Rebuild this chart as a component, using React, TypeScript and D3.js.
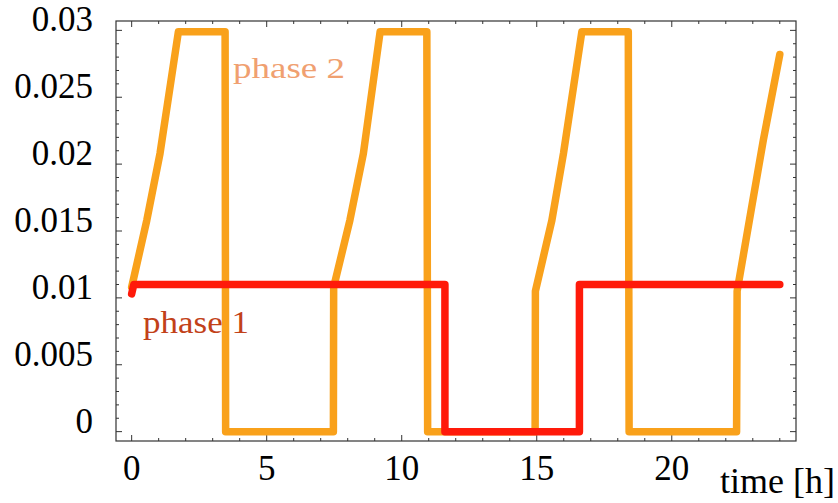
import React, { useEffect, useRef } from 'react';
import * as d3 from 'd3';

// phase 2 (orange) – time [h] and value
const phase2Time = [0, 0.56, 1.05, 1.73, 3.46, 3.48, 7.47, 7.48, 8.08, 8.58, 9.2, 10.93, 10.96, 14.94, 14.95, 15.56, 15.99, 16.67, 18.39, 18.42, 22.4, 22.42, 22.96, 23.39, 24.0];
const phase2Value = [0.0108, 0.0158, 0.0208, 0.0299, 0.0299, 0, 0, 0.0108, 0.0158, 0.0208, 0.0299, 0.0299, 0, 0, 0.0105, 0.0158, 0.0208, 0.0299, 0.0299, 0, 0, 0.0105, 0.0168, 0.0218, 0.0282];

// phase 1 (red)
const phase1Time = [0, 0.08, 11.6, 11.6, 16.58, 16.58, 24.0];
const phase1Value = [0.0103, 0.011, 0.011, 0, 0, 0.011, 0.011];

const xTickLabels = [0, 5, 10, 15, 20];
const yTickLabels = ['0', '0.005', '0.01', '0.015', '0.02', '0.025', '0.03'];

const App = () => {
  const ref = useRef<SVGSVGElement>(null);

  useEffect(() => {
    const width = 838;
    const height = 503;
    const left = 116, right = 796, top = 21, bottom = 441;

    const svg = d3.select(ref.current);
    svg.selectAll('*').remove();

    const x = d3.scaleLinear().domain([-0.58, 24.6]).range([left, right]);
    const y = d3.scaleLinear().domain([-0.0007, 0.0307]).range([bottom, top]);

    const font = '"Liberation Serif", "Times New Roman", serif';

    // frame
    svg.append('rect')
      .attr('x', left)
      .attr('y', top)
      .attr('width', right - left)
      .attr('height', bottom - top)
      .style('fill', 'none')
      .style('stroke', '#333')
      .style('stroke-width', 1.2);

    // ticks on all four sides, pointing inward
    const xt = d3.range(0, 25);
    xt.forEach(t => {
      const len = t % 5 === 0 ? 6 : 3;
      svg.append('line').attr('x1', x(t)).attr('x2', x(t)).attr('y1', bottom).attr('y2', bottom - len)
        .style('stroke', '#333').style('stroke-width', 1);
      svg.append('line').attr('x1', x(t)).attr('x2', x(t)).attr('y1', top).attr('y2', top + len)
        .style('stroke', '#333').style('stroke-width', 1);
    });
    const yt = d3.range(0, 31).map(i => i * 0.001);
    yt.forEach((v, i) => {
      const len = i % 5 === 0 ? 6 : 3;
      svg.append('line').attr('x1', left).attr('x2', left + len).attr('y1', y(v)).attr('y2', y(v))
        .style('stroke', '#333').style('stroke-width', 1);
      svg.append('line').attr('x1', right).attr('x2', right - len).attr('y1', y(v)).attr('y2', y(v))
        .style('stroke', '#333').style('stroke-width', 1);
    });

    // tick labels
    svg.selectAll('.xlab')
      .data(xTickLabels)
      .enter()
      .append('text')
      .attr('x', d => x(d))
      .attr('y', 480)
      .attr('text-anchor', 'middle')
      .style('font-family', font)
      .style('font-size', '35px')
      .style('fill', '#000')
      .text(d => String(d));

    svg.selectAll('.ylab')
      .data(yTickLabels)
      .enter()
      .append('text')
      .attr('x', 93)
      .attr('y', d => y(+d) + 1)
      .attr('text-anchor', 'end')
      .style('font-family', font)
      .style('font-size', '35px')
      .style('fill', '#000')
      .text(d => d);

    svg.append('text')
      .attr('x', 835)
      .attr('y', 493)
      .attr('text-anchor', 'end')
      .style('font-family', font)
      .style('font-size', '36px')
      .style('fill', '#000')
      .text('time [h]');

    // series labels (lines are drawn over them)
    svg.append('text')
      .attr('x', 233)
      .attr('y', 78)
      .attr('textLength', 112)
      .attr('lengthAdjust', 'spacingAndGlyphs')
      .style('font-family', font)
      .style('font-size', '30px')
      .style('fill', '#F0A070')
      .text('phase 2');

    svg.append('text')
      .attr('x', 143)
      .attr('y', 333)
      .attr('textLength', 106)
      .attr('lengthAdjust', 'spacingAndGlyphs')
      .style('font-family', font)
      .style('font-size', '32px')
      .style('fill', '#C24119')
      .text('phase 1');

    const line = d3.line<[number, number]>()
      .x(d => x(d[0]))
      .y(d => y(d[1]));

    const p2 = phase2Time.map((t, i) => [t, phase2Value[i]] as [number, number]);
    const p1 = phase1Time.map((t, i) => [t, phase1Value[i]] as [number, number]);

    svg.append('path')
      .datum(p2)
      .attr('d', line)
      .style('fill', 'none')
      .style('stroke', '#F9A11B')
      .style('stroke-width', 7.5)
      .style('stroke-linejoin', 'round')
      .style('stroke-linecap', 'round');

    svg.append('path')
      .datum(p1)
      .attr('d', line)
      .style('fill', 'none')
      .style('stroke', '#FF1A0A')
      .style('stroke-width', 7.5)
      .style('stroke-linejoin', 'round')
      .style('stroke-linecap', 'round');

    svg.attr('width', width).attr('height', height);
  }, []);

  return (
    <svg
      ref={ref}
      width={838}
      height={503}
      style={{ position: 'absolute', left: 0, top: 0, background: '#fff' }}
    />
  );
};

export default App;
